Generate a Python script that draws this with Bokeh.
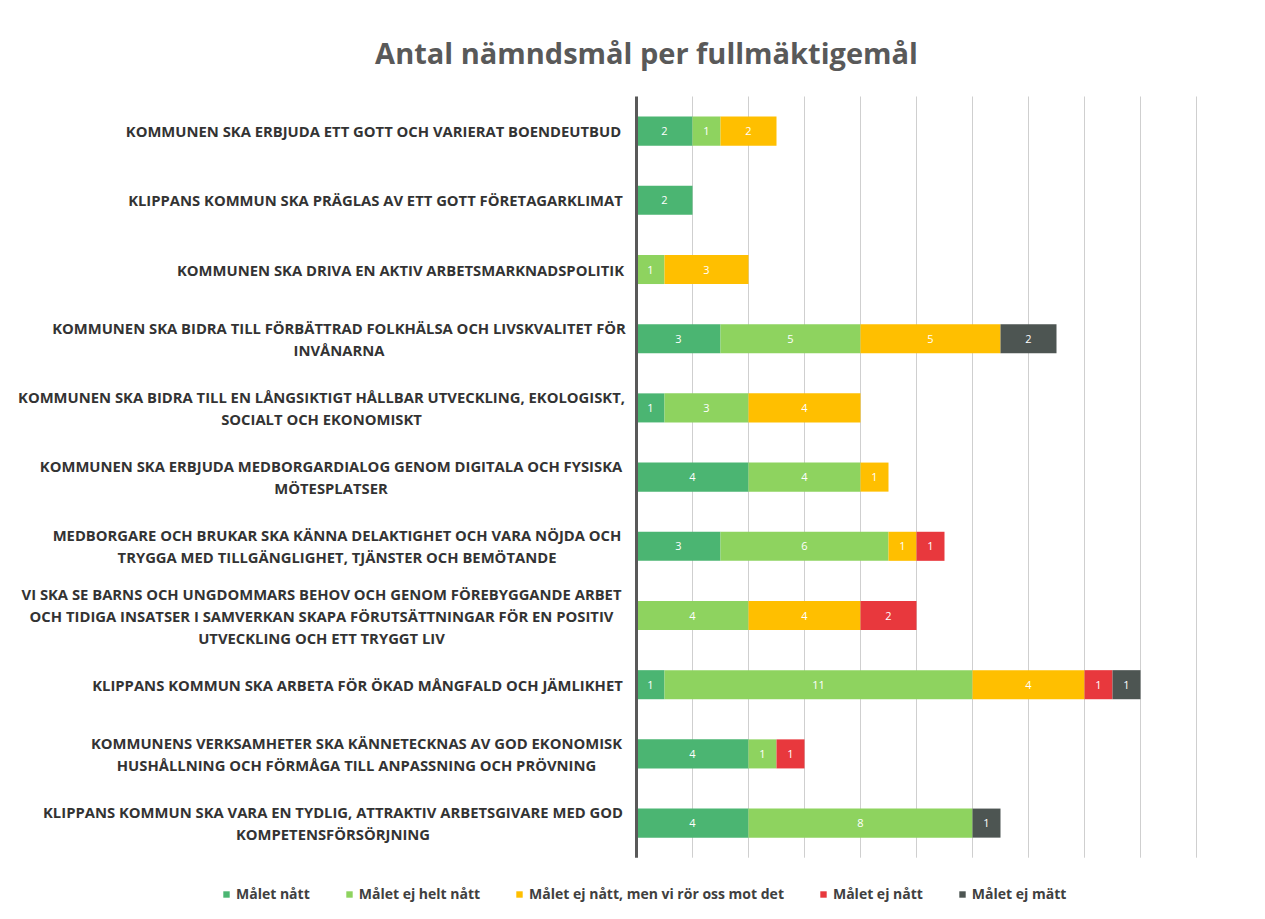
import numpy as np
from bokeh.plotting import figure
from bokeh.models import (ColumnDataSource, Range1d, Legend, LegendItem)
from bokeh.embed import file_html
from bokeh.resources import INLINE
from bokeh.core.properties import value

# ---------------- data ----------------
categories = [
    "KOMMUNEN SKA ERBJUDA ETT GOTT OCH VARIERAT BOENDEUTBUD",
    "KLIPPANS KOMMUN SKA PRÄGLAS AV ETT GOTT FÖRETAGARKLIMAT",
    "KOMMUNEN SKA DRIVA EN AKTIV ARBETSMARKNADSPOLITIK",
    "KOMMUNEN SKA BIDRA TILL FÖRBÄTTRAD FOLKHÄLSA OCH LIVSKVALITET FÖR\nINVÅNARNA",
    "KOMMUNEN SKA BIDRA TILL EN LÅNGSIKTIGT HÅLLBAR UTVECKLING, EKOLOGISKT,\nSOCIALT OCH EKONOMISKT",
    "KOMMUNEN SKA ERBJUDA MEDBORGARDIALOG GENOM DIGITALA OCH FYSISKA\nMÖTESPLATSER",
    "MEDBORGARE OCH BRUKAR SKA KÄNNA DELAKTIGHET OCH VARA NÖJDA OCH\nTRYGGA MED TILLGÄNGLIGHET, TJÄNSTER OCH BEMÖTANDE",
    "VI SKA SE BARNS OCH UNGDOMMARS BEHOV OCH GENOM FÖREBYGGANDE ARBET\nOCH TIDIGA INSATSER I SAMVERKAN SKAPA FÖRUTSÄTTNINGAR FÖR EN POSITIV\nUTVECKLING OCH ETT TRYGGT LIV",
    "KLIPPANS KOMMUN SKA ARBETA FÖR ÖKAD MÅNGFALD OCH JÄMLIKHET",
    "KOMMUNENS VERKSAMHETER SKA KÄNNETECKNAS AV GOD EKONOMISK\nHUSHÅLLNING OCH FÖRMÅGA TILL ANPASSNING OCH PRÖVNING",
    "KLIPPANS KOMMUN SKA VARA EN TYDLIG, ATTRAKTIV ARBETSGIVARE MED GOD\nKOMPETENSFÖRSÖRJNING",
]
malet_natt = [2, 2, 0, 3, 1, 4, 3, 0, 1, 4, 4]
malet_ej_helt_natt = [1, 0, 1, 5, 3, 4, 6, 4, 11, 1, 8]
malet_ror_oss = [2, 0, 3, 5, 4, 1, 1, 4, 4, 0, 0]
malet_ej_natt = [0, 0, 0, 0, 0, 0, 1, 2, 1, 1, 0]
malet_ej_matt = [0, 0, 0, 2, 0, 0, 0, 0, 1, 0, 1]

series_names = ["Målet nått", "Målet ej helt nått", "Målet ej nått, men vi rör oss mot det",
                "Målet ej nått", "Målet ej mätt"]
series_values = [malet_natt, malet_ej_helt_natt, malet_ror_oss, malet_ej_natt, malet_ej_matt]
title_text = "Antal nämndsmål per fullmäktigemål"
x_max = 20
grid_step = 2

# ---------------- style / layout ----------------
colors = ["#4BB572", "#8ED35F", "#FFBF00", "#E8383D", "#4D5552"]
FONT = "Open Sans"
label_starts = [126, 130, 180, 57, 22, 41, 53, 22, 94, 92, 45]  # left edge of longest line (px)
W, H = 1250, 903
OFF = 0                 # canvas origin in screenshot px
RIGHT_EDGE = 620        # right edge of category text (px)
AXIS_PX = 636           # value 0 (px)
PX_PER_UNIT = 28.0
PLOT_TOP = 96           # px
ROW_PX = 69.2
LINE_PX = 22.0
WIDTH_FACTOR = 1.0

N = len(categories)
ypos = [N - 1 - k for k in range(N)]   # top row first
keys = ["s%d" % i for i in range(len(series_names))]

def x_of(px):
    return (px - AXIS_PX) / PX_PER_UNIT

def y_of(py):
    return N - 0.5 - (py - PLOT_TOP) / ROW_PX

src = {"y": ypos}
for k, vals in zip(keys, series_values):
    src[k] = vals
source = ColumnDataSource(src)

p = figure(width=W, height=H,
           x_range=Range1d(x_of(OFF), x_of(OFF + W)),
           y_range=Range1d(y_of(OFF + H), y_of(OFF)),
           output_backend="svg", toolbar_location=None,
           min_border=0)
p.xaxis.visible = False
p.yaxis.visible = False
p.grid.visible = False
p.outline_line_color = None
p.background_fill_color = "white"
p.border_fill_color = "white"

# grid lines over the plot area
gx = list(range(grid_step, x_max + 1, grid_step))
p.segment(x0=gx, x1=gx, y0=[-0.5] * len(gx), y1=[N - 0.5] * len(gx),
          line_color="#cfcfcf", line_width=1)

renderers = p.hbar_stack(keys, y="y", height=0.42, color=colors,
                         line_color=None, source=source)

# vertical axis line
p.segment(x0=[0], x1=[0], y0=[-0.5], y1=[N - 0.5], line_color="#595959", line_width=3)

# data labels
lx, ly, lt = [], [], []
for i in range(N):
    left = 0
    for vals in series_values:
        v = vals[i]
        if v > 0:
            lx.append(left + v / 2.0)
            ly.append(ypos[i])
            lt.append(str(v))
        left += v
p.text(x="x", y="y", text="t", source=ColumnDataSource(dict(x=lx, y=ly, t=lt)),
       text_align="center", text_baseline="middle", text_color="white",
       text_font_size="11px", text_font=value(FONT))

# category labels (centered lines, block right-aligned)
cx_l, cy_l, ct_l = [], [], []
for k, label in enumerate(categories):
    lines = label.split("\n")
    cx_px = RIGHT_EDGE - WIDTH_FACTOR * (RIGHT_EDGE - label_starts[k]) / 2.0
    n = len(lines)
    for j, line in enumerate(lines):
        off = ((n - 1) / 2.0 - j) * LINE_PX / ROW_PX
        cx_l.append(x_of(cx_px))
        cy_l.append(ypos[k] + off)
        ct_l.append(line)
p.text(x="x", y="y", text="t", source=ColumnDataSource(dict(x=cx_l, y=cy_l, t=ct_l)),
       text_align="center", text_baseline="middle", text_font=value(FONT),
       text_font_style="bold", text_font_size="14.8px", text_color="#333333")

# title
p.text(x=[x_of(646)], y=[y_of(52)], text=[title_text], text_align="center",
       text_baseline="middle", text_font=value(FONT), text_font_style="bold",
       text_font_size="29px", text_color="#595959")

legend = Legend(items=[LegendItem(label=n, renderers=[r]) for n, r in zip(series_names, renderers)],
                orientation="horizontal", location=(222, 0),
                label_text_font=FONT, label_text_font_style="bold",
                label_text_font_size="14px", label_text_color="#404040",
                glyph_width=8, glyph_height=8, spacing=35, label_standoff=6,
                border_line_color=None, background_fill_alpha=0,
                margin=0, padding=2)
p.add_layout(legend, "center")

open("out.html", "w").write(file_html(p, INLINE))
